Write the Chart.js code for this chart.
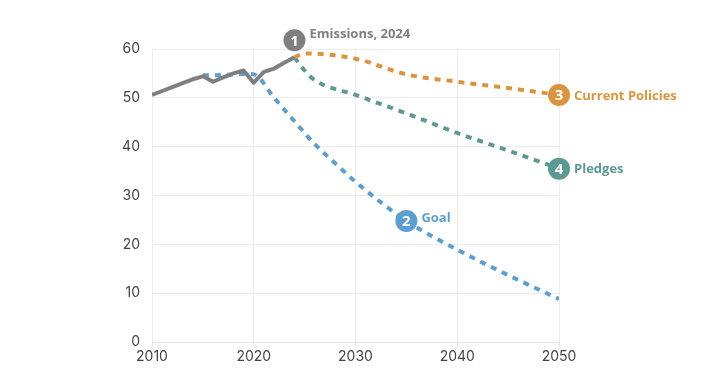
<!DOCTYPE html>
<html>
<head>
<meta charset="utf-8">
<script src="https://cdn.jsdelivr.net/npm/chart.js@4"></script>
<style>
  html, body { margin: 0; padding: 0; background: #fff; }
  #wrap { width: 718px; height: 377px; }
</style>
</head>
<body>
<div id="wrap"><canvas id="emissionsChart"></canvas></div>
<script>
// historical emissions (Gt CO2e)
const emissionYears = [2010, 2011, 2012, 2013, 2014, 2015, 2016, 2017, 2018, 2019, 2020, 2021, 2022, 2023, 2024];
const emissionValues = [50.6, 51.4, 52.2, 53.0, 53.8, 54.4, 53.3, 54.2, 55.0, 55.6, 53.1, 55.3, 56.0, 57.2, 58.3];

// goal pathway
const goalYears = [2015, 2016, 2017, 2018, 2019, 2020, 2022, 2024, 2026, 2028, 2030, 2035, 2040, 2045, 2050];
const goalValues = [54.6, 54.6, 54.7, 54.8, 54.9, 54.8, 50.0, 45.2, 40.5, 36.6, 32.8, 24.8, 18.9, 13.7, 8.8];

// current policies
const policyYears = [2024, 2025, 2030, 2035, 2040, 2045, 2050];
const policyValues = [58.3, 59.1, 58.0, 54.8, 53.3, 52.0, 50.6];

// pledges
const pledgeYears = [2024, 2025, 2026, 2030, 2035, 2040, 2045, 2050];
const pledgeValues = [58.3, 55.6, 53.6, 50.6, 46.8, 42.8, 39.2, 35.5];

const yTicks = [0, 10, 20, 30, 40, 50, 60];
const xTicks = [2010, 2020, 2030, 2040, 2050];

// numbered labels: which series, which year
const markerNumbers = ['1', '2', '3', '4'];
const markerTexts = ['Emissions, 2024', 'Goal', 'Current Policies', 'Pledges'];
const markerYears = [2024, 2035, 2050, 2050];

const colors = {
  emissions: '#7f7f7f',
  goal: '#5b9fd2',
  policies: '#dc933d',
  pledges: '#5a9a93'
};

function toPoints(xs, ys) {
  return xs.map((x, i) => ({ x: x, y: ys[i] }));
}

const ctx = document.getElementById('emissionsChart').getContext('2d');

// draws the circles with numbers and the series names
const markerPlugin = {
  id: 'markers',
  afterDatasetsDraw(chart) {
    const c = chart.ctx;
    const xs = chart.scales.x, ys = chart.scales.y;
    const series = [
      [emissionYears, emissionValues, colors.emissions],
      [goalYears, goalValues, colors.goal],
      [policyYears, policyValues, colors.policies],
      [pledgeYears, pledgeValues, colors.pledges]
    ];
    markerNumbers.forEach((num, i) => {
      const [yrs, vals, col] = series[i];
      const v = vals[yrs.indexOf(markerYears[i])];
      let px = xs.getPixelForValue(markerYears[i]);
      let py = ys.getPixelForValue(v);
      if (i === 0) py -= 17; // first one sits above the end of the line
      c.save();
      c.beginPath();
      c.arc(px, py, 11, 0, Math.PI * 2);
      c.fillStyle = col;
      c.fill();
      c.fillStyle = '#fff';
      c.font = 'bold 15px "Open Sans"';
      c.textAlign = 'center';
      c.textBaseline = 'middle';
      c.fillText(num, px, py + 1);
      c.fillStyle = col;
      c.font = 'bold 13px "Open Sans"';
      c.textAlign = 'left';
      const ty = i === 0 ? py - 6 : (i === 1 ? py - 3 : py + 1);
      c.fillText(markerTexts[i], px + 15, ty);
      c.restore();
    });
  }
};

new Chart(ctx, {
  type: 'line',
  data: {
    datasets: [
      {
        label: 'Emissions',
        data: toPoints(emissionYears, emissionValues),
        borderColor: colors.emissions,
        borderWidth: 4,
        borderJoinStyle: 'round',
        tension: 0,
        pointRadius: 0
      },
      {
        label: 'Goal',
        data: toPoints(goalYears, goalValues),
        borderColor: colors.goal,
        borderWidth: 4,
        borderDash: [6, 6],
        cubicInterpolationMode: 'monotone',
        pointRadius: 0
      },
      {
        label: 'Current Policies',
        data: toPoints(policyYears, policyValues),
        borderColor: colors.policies,
        borderWidth: 4,
        borderDash: [6, 6],
        cubicInterpolationMode: 'monotone',
        pointRadius: 0
      },
      {
        label: 'Pledges',
        data: toPoints(pledgeYears, pledgeValues),
        borderColor: colors.pledges,
        borderWidth: 4,
        borderDash: [6, 6],
        cubicInterpolationMode: 'monotone',
        pointRadius: 0
      }
    ]
  },
  options: {
    responsive: true,
    maintainAspectRatio: false,
    animation: false,
    layout: { padding: { top: 49, right: 159, bottom: 0, left: 0 } },
    plugins: {
      legend: { display: false },
      tooltip: { enabled: false }
    },
    scales: {
      x: {
        type: 'linear',
        min: 2010,
        max: 2050,
        afterBuildTicks: axis => { axis.ticks = xTicks.map(v => ({ value: v })); },
        afterFit: axis => { axis.height = 35; },
        border: { color: '#e3e3e3' },
        grid: { color: '#ececec', tickLength: 4, tickColor: '#e3e3e3' },
        ticks: {
          padding: 2,
          color: '#444',
          font: { family: 'Inter', size: 14 },
          callback: v => String(v)
        }
      },
      y: {
        min: 0,
        max: 60,
        afterBuildTicks: axis => { axis.ticks = yTicks.map(v => ({ value: v })); },
        afterFit: axis => { axis.width = 152; },
        border: { display: false },
        grid: { color: '#ececec', drawTicks: false },
        ticks: {
          padding: 12,
          color: '#444',
          font: { family: 'Inter', size: 14 }
        }
      }
    }
  },
  plugins: [markerPlugin]
});
</script>
</body>
</html>
